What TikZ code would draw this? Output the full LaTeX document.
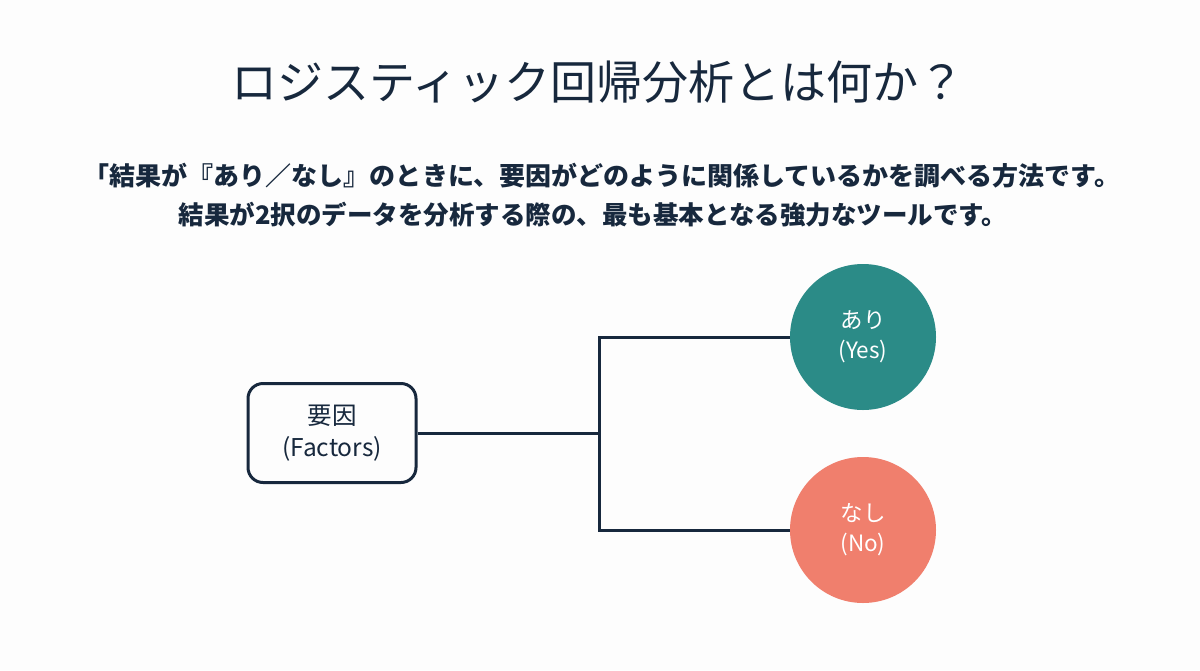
\documentclass[tikz,border=0pt]{standalone}
\usepackage{fontspec}
\setmainfont{Noto Sans CJK JP}
\usetikzlibrary{positioning}
\definecolor{navy}{HTML}{17283D}
\definecolor{tealc}{HTML}{2B8B87}
\definecolor{salmon}{HTML}{F07F6D}
\definecolor{bgc}{HTML}{FDFDFD}
\tikzset{
  title/.style={font=\fontsize{46}{52}\selectfont, text=navy, inner sep=0},
  subt/.style={font=\bfseries\fontsize{25.5}{30}\selectfont, text=navy, inner sep=0},
  factorbox/.style={draw=navy, line width=3pt, rounded corners=15pt, minimum width=168pt, minimum height=99pt, align=center, font=\fontsize{24.5}{32}\selectfont, text=navy},
  outcome/.style={circle, minimum size=146pt, inner sep=0, align=center, font=\fontsize{22.5}{30}\selectfont, text=white},
  link/.style={draw=navy, line width=3pt}
}
\begin{document}
\begin{tikzpicture}[x=1pt,y=-1pt]
\fill[bgc] (0,0) rectangle (1200,670);
\useasboundingbox (0,0) rectangle (1200,670);
\node[title] (t) at (598,82) {ロジスティック回帰分析とは何か？};
\node[subt, xscale=1.02] (s1) at (602,176) {「結果が『あり／なし』のときに、要因がどのように関係しているかを調べる方法です。};
\node[subt] (s2) at (593,215) {結果が2択のデータを分析する際の、最も基本となる強力なツールです。};
\node[factorbox] (f) at (332,433) {要因\\(Factors)};
\node[outcome, fill=tealc] (y) at (863,337) {あり\\(Yes)};
\node[outcome, fill=salmon] (n) at (863,530) {なし\\(No)};
\coordinate (j) at (599,433);
\draw[link] (f.east) -- (j);
\draw[link] (y.west) -| (j);
\draw[link] (n.west) -| (j);
\end{tikzpicture}
\end{document}
